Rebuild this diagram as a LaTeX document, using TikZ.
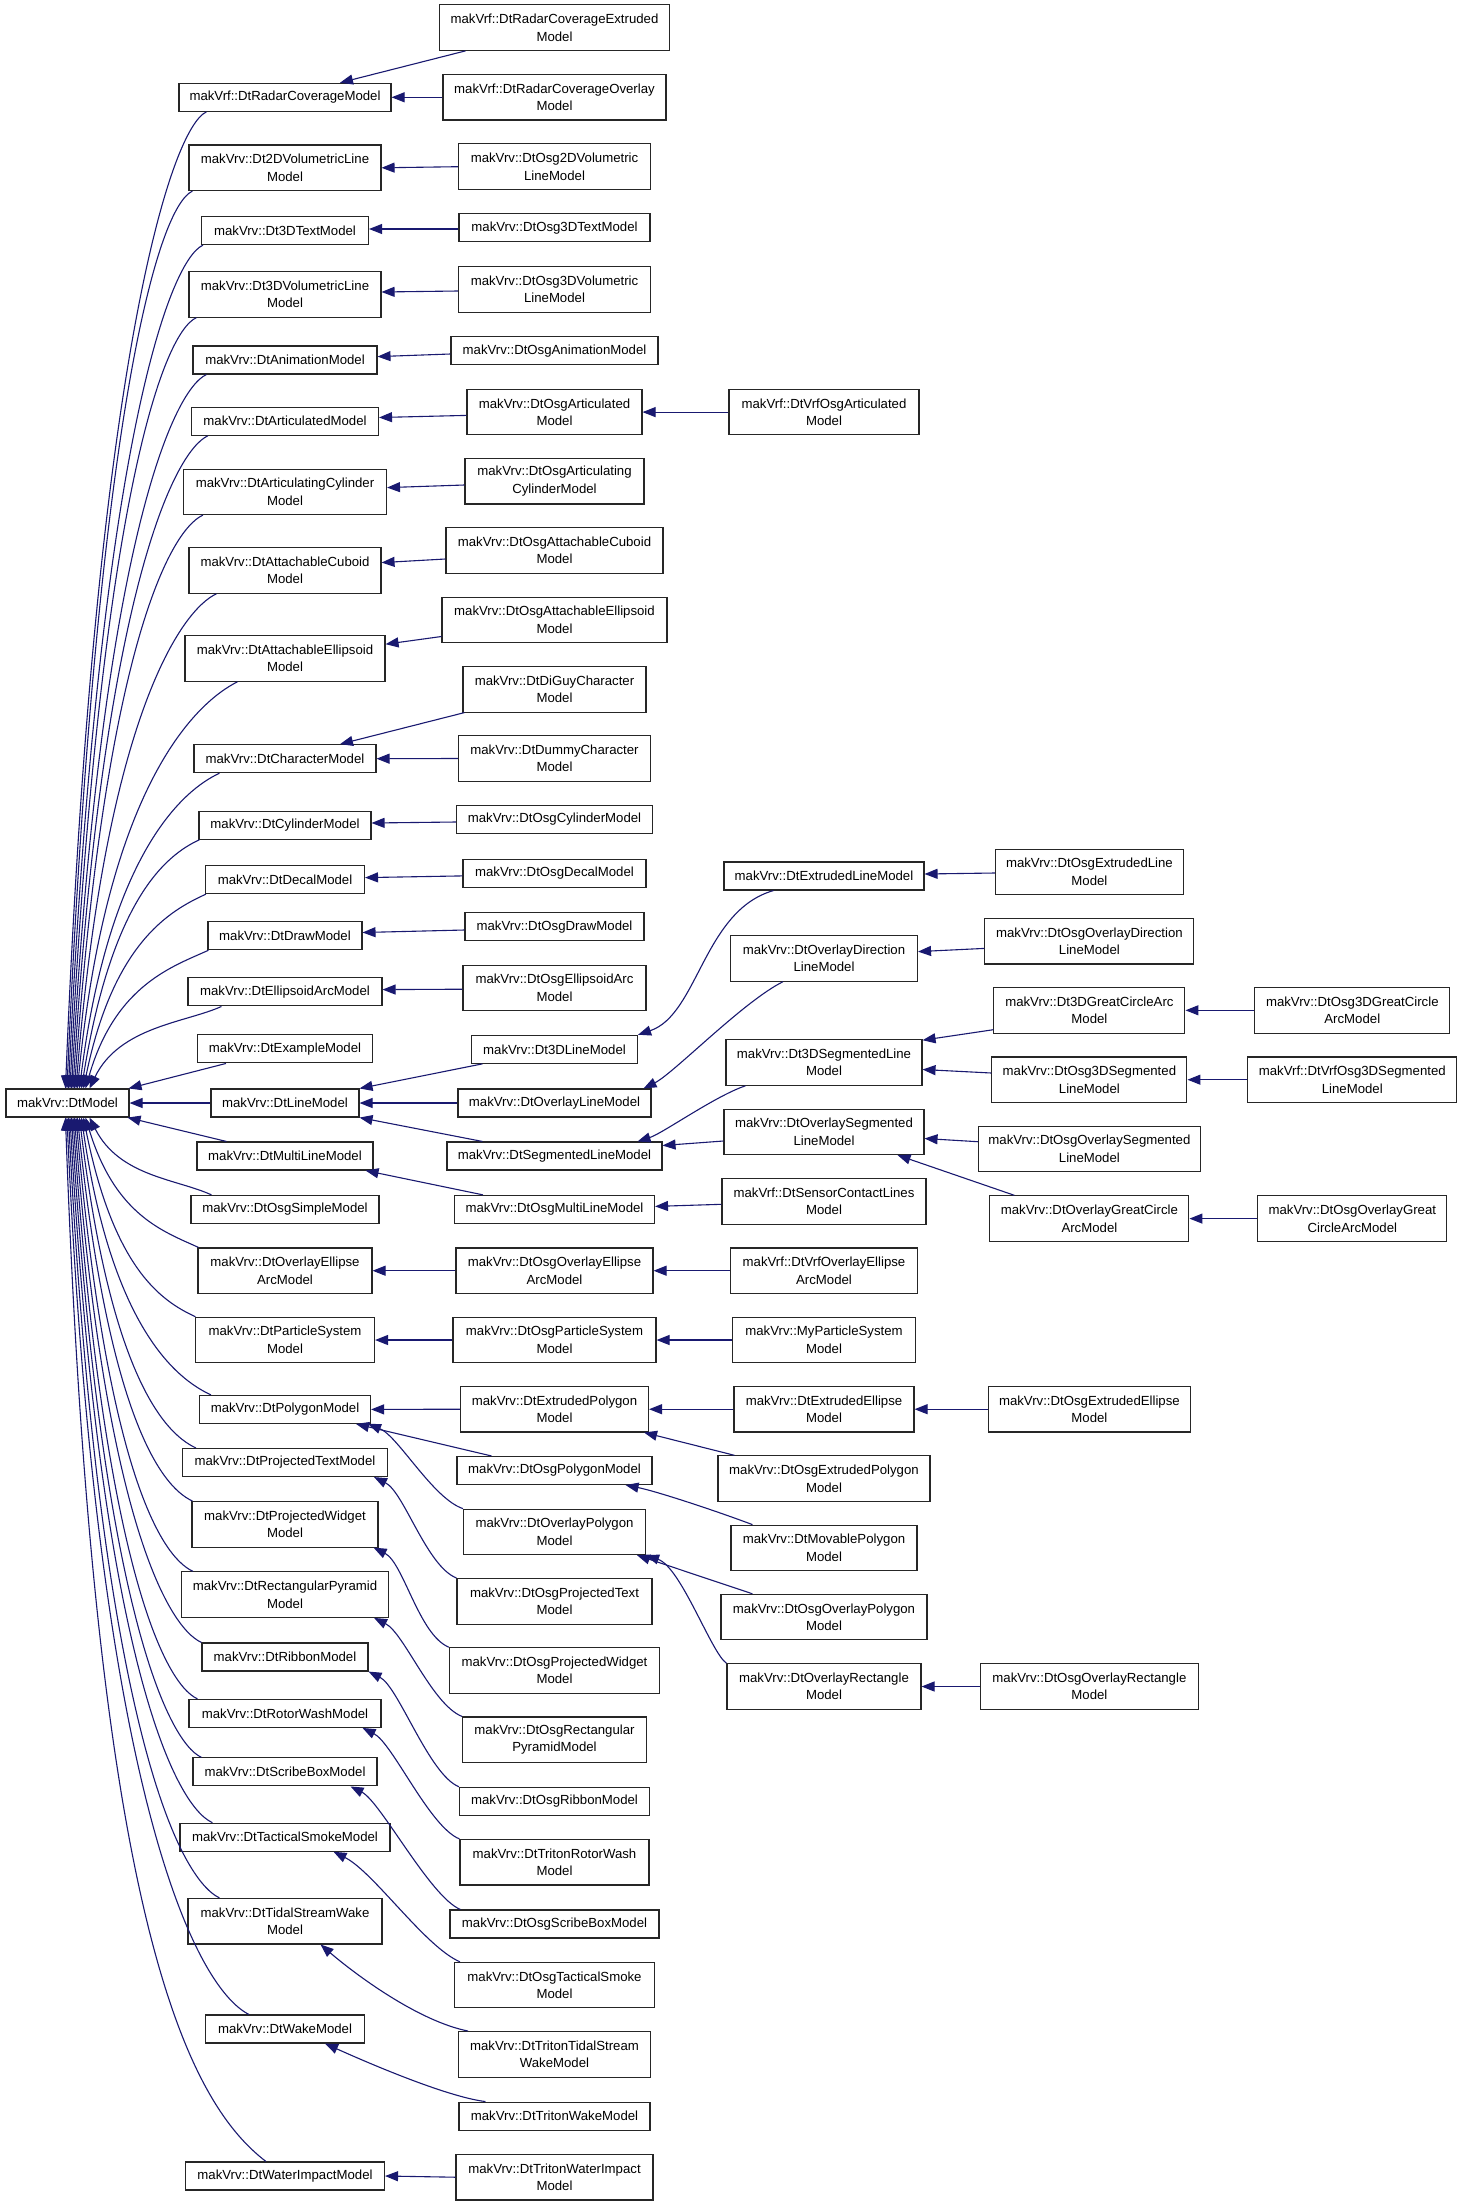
\documentclass[tikz,border=0pt]{standalone}
\usepackage{fontspec}
\setmainfont{Liberation Sans}
\usetikzlibrary{arrows.meta}
\definecolor{mblue}{RGB}{25,25,112}
\begin{document}
\begin{tikzpicture}[x=1pt,y=-1pt,
  bx/.style={draw=black!85,line width=1.1pt,fill=white,inner sep=0pt,align=center,text=black,font=\fontsize{13.2}{17.5}\selectfont},
  bx1/.style={bx,minimum height=28pt},
  bx2/.style={bx,minimum height=45.5pt},
  inh/.style={draw=mblue,line width=1.1pt,-{Triangle[length=13pt,width=10pt]}}]
\fill[white] (0,0) rectangle (1467,2205);
\useasboundingbox (0,0) rectangle (1467,2205);
% root
\node[bx1,minimum width=123pt] (m) at (67.5,1103) {makVrv::DtModel};
% column 1
\node[bx1,minimum width=212pt] (rc) at (285,97.3) {makVrf::DtRadarCoverageModel};
\node[bx2,minimum width=192pt] (d2v) at (285,167.8) {makVrv::Dt2DVolumetricLine\\Model};
\node[bx1,minimum width=167pt] (d3t) at (285,230.6) {makVrv::Dt3DTextModel};
\node[bx2,minimum width=192pt] (d3v) at (285,294.3) {makVrv::Dt3DVolumetricLine\\Model};
\node[bx1,minimum width=184pt] (anim) at (285,360) {makVrv::DtAnimationModel};
\node[bx1,minimum width=187pt] (art) at (285,421.2) {makVrv::DtArticulatedModel};
\node[bx2,minimum width=203pt] (acyl) at (285,491.8) {makVrv::DtArticulatingCylinder\\Model};
\node[bx2,minimum width=192pt] (acub) at (285,570.5) {makVrv::DtAttachableCuboid\\Model};
\node[bx2,minimum width=200pt] (aell) at (285,658.5) {makVrv::DtAttachableEllipsoid\\Model};
\node[bx1,minimum width=182pt] (chr) at (285,758.7) {makVrv::DtCharacterModel};
\node[bx1,minimum width=172pt] (cyl) at (285,825.2) {makVrv::DtCylinderModel};
\node[bx1,minimum width=159pt] (dec) at (285,879.6) {makVrv::DtDecalModel};
\node[bx1,minimum width=154pt] (drw) at (285,935.7) {makVrv::DtDrawModel};
\node[bx1,minimum width=194pt] (earc) at (285,991.9) {makVrv::DtEllipsoidArcModel};
\node[bx1,minimum width=175pt] (exm) at (285,1048.9) {makVrv::DtExampleModel};
\node[bx1,minimum width=148pt] (line) at (285,1103) {makVrv::DtLineModel};
\node[bx1,minimum width=176pt] (mline) at (285,1156) {makVrv::DtMultiLineModel};
\node[bx1,minimum width=188pt] (osim) at (285,1209.4) {makVrv::DtOsgSimpleModel};
\node[bx2,minimum width=174pt] (oea) at (285,1270.7) {makVrv::DtOverlayEllipse\\ArcModel};
\node[bx2,minimum width=179pt] (ps) at (285,1340) {makVrv::DtParticleSystem\\Model};
\node[bx1,minimum width=171pt] (poly) at (285,1409.4) {makVrv::DtPolygonModel};
\node[bx1,minimum width=205pt] (ptxt) at (285,1462.5) {makVrv::DtProjectedTextModel};
\node[bx2,minimum width=186pt] (pw) at (285,1524.3) {makVrv::DtProjectedWidget\\Model};
\node[bx2,minimum width=207pt] (rp) at (285,1594.6) {makVrv::DtRectangularPyramid\\Model};
\node[bx1,minimum width=166pt] (rib) at (285,1657) {makVrv::DtRibbonModel};
\node[bx1,minimum width=192pt] (rw) at (285,1713.4) {makVrv::DtRotorWashModel};
\node[bx1,minimum width=184pt] (sb) at (285,1771.9) {makVrv::DtScribeBoxModel};
\node[bx1,minimum width=210pt] (ts) at (285,1837.2) {makVrv::DtTacticalSmokeModel};
\node[bx2,minimum width=194pt] (tsw) at (285,1921.2) {makVrv::DtTidalStreamWake\\Model};
\node[bx1,minimum width=159pt] (wk) at (285,2029) {makVrv::DtWakeModel};
\node[bx1,minimum width=199pt] (wi) at (285,2176) {makVrv::DtWaterImpactModel};
% column 2
\node[bx2,minimum width=230pt] (rce) at (554.5,27.6) {makVrf::DtRadarCoverageExtruded\\Model};
\node[bx2,minimum width=223pt] (rco) at (554.5,97.3) {makVrf::DtRadarCoverageOverlay\\Model};
\node[bx2,minimum width=192pt] (o2v) at (554.5,166.7) {makVrv::DtOsg2DVolumetric\\LineModel};
\node[bx1,minimum width=191pt] (o3t) at (554.5,227.8) {makVrv::DtOsg3DTextModel};
\node[bx2,minimum width=192pt] (o3v) at (554.5,289.4) {makVrv::DtOsg3DVolumetric\\LineModel};
\node[bx1,minimum width=207pt] (oanim) at (554.5,350.6) {makVrv::DtOsgAnimationModel};
\node[bx2,minimum width=175pt] (oart) at (554.5,412.1) {makVrv::DtOsgArticulated\\Model};
\node[bx2,minimum width=179pt] (oacyl) at (554.5,481.2) {makVrv::DtOsgArticulating\\CylinderModel};
\node[bx2,minimum width=217pt] (oacub) at (554.5,550.4) {makVrv::DtOsgAttachableCuboid\\Model};
\node[bx2,minimum width=225pt] (oaell) at (554.5,619.9) {makVrv::DtOsgAttachableEllipsoid\\Model};
\node[bx2,minimum width=183pt] (diguy) at (554.5,689.3) {makVrv::DtDiGuyCharacter\\Model};
\node[bx2,minimum width=192pt] (dummy) at (554.5,758.5) {makVrv::DtDummyCharacter\\Model};
\node[bx1,minimum width=196pt] (ocyl) at (554.5,819.5) {makVrv::DtOsgCylinderModel};
\node[bx1,minimum width=183pt] (odec) at (554.5,873.2) {makVrv::DtOsgDecalModel};
\node[bx1,minimum width=179pt] (odrw) at (554.5,926.7) {makVrv::DtOsgDrawModel};
\node[bx2,minimum width=183pt] (oearc) at (554.5,988) {makVrv::DtOsgEllipsoidArc\\Model};
\node[bx1,minimum width=166pt] (l3d) at (554.5,1049.3) {makVrv::Dt3DLineModel};
\node[bx1,minimum width=193pt] (oline) at (554.5,1103) {makVrv::DtOverlayLineModel};
\node[bx1,minimum width=215pt] (seg) at (554.5,1156) {makVrv::DtSegmentedLineModel};
\node[bx1,minimum width=200pt] (omline) at (554.5,1209.4) {makVrv::DtOsgMultiLineModel};
\node[bx2,minimum width=197pt] (ooea) at (554.5,1270.7) {makVrv::DtOsgOverlayEllipse\\ArcModel};
\node[bx2,minimum width=203pt] (ops) at (554.5,1340) {makVrv::DtOsgParticleSystem\\Model};
\node[bx2,minimum width=188pt] (epoly) at (554.5,1409.2) {makVrv::DtExtrudedPolygon\\Model};
\node[bx1,minimum width=195pt] (opoly) at (554.5,1470.5) {makVrv::DtOsgPolygonModel};
\node[bx2,minimum width=182pt] (ovpoly) at (554.5,1531.9) {makVrv::DtOverlayPolygon\\Model};
\node[bx2,minimum width=195pt] (optxt) at (554.5,1601.3) {makVrv::DtOsgProjectedText\\Model};
\node[bx2,minimum width=210pt] (opw) at (554.5,1670.5) {makVrv::DtOsgProjectedWidget\\Model};
\node[bx2,minimum width=184pt] (orp) at (554.5,1739.7) {makVrv::DtOsgRectangular\\PyramidModel};
\node[bx1,minimum width=190pt] (orib) at (554.5,1801.3) {makVrv::DtOsgRibbonModel};
\node[bx2,minimum width=189pt] (trw) at (554.5,1862.2) {makVrv::DtTritonRotorWash\\Model};
\node[bx1,minimum width=209pt] (osb) at (554.5,1924) {makVrv::DtOsgScribeBoxModel};
\node[bx2,minimum width=200pt] (ots) at (554.5,1985.1) {makVrv::DtOsgTacticalSmoke\\Model};
\node[bx2,minimum width=192pt] (ttsw) at (554.5,2054.3) {makVrv::DtTritonTidalStream\\WakeModel};
\node[bx1,minimum width=191pt] (twk) at (554.5,2116.1) {makVrv::DtTritonWakeModel};
\node[bx2,minimum width=197pt] (twi) at (554.5,2177.2) {makVrv::DtTritonWaterImpact\\Model};
% column 3
\node[bx2,minimum width=190pt] (vosa) at (824,412.1) {makVrf::DtVrfOsgArticulated\\Model};
\node[bx1,minimum width=200pt] (eline) at (824,876) {makVrv::DtExtrudedLineModel};
\node[bx2,minimum width=187pt] (odir) at (824,958.4) {makVrv::DtOverlayDirection\\LineModel};
\node[bx2,minimum width=196pt] (s3d) at (824,1062.5) {makVrv::Dt3DSegmentedLine\\Model};
\node[bx2,minimum width=200pt] (oseg) at (824,1131.8) {makVrv::DtOverlaySegmented\\LineModel};
\node[bx2,minimum width=204pt] (scl) at (824,1201.3) {makVrf::DtSensorContactLines\\Model};
\node[bx2,minimum width=187pt] (voea) at (824,1270.7) {makVrf::DtVrfOverlayEllipse\\ArcModel};
\node[bx2,minimum width=183pt] (mps) at (824,1340) {makVrv::MyParticleSystem\\Model};
\node[bx2,minimum width=180pt] (eell) at (824,1409.2) {makVrv::DtExtrudedEllipse\\Model};
\node[bx2,minimum width=212pt] (oepoly) at (824,1478.6) {makVrv::DtOsgExtrudedPolygon\\Model};
\node[bx2,minimum width=186pt] (mpoly) at (824,1547.9) {makVrv::DtMovablePolygon\\Model};
\node[bx2,minimum width=206pt] (oopoly) at (824,1617.1) {makVrv::DtOsgOverlayPolygon\\Model};
\node[bx2,minimum width=194pt] (orect) at (824,1686.5) {makVrv::DtOverlayRectangle\\Model};
% column 4
\node[bx2,minimum width=188pt] (oeline) at (1089.4,871.8) {makVrv::DtOsgExtrudedLine\\Model};
\node[bx2,minimum width=209pt] (oodir) at (1089.4,941.2) {makVrv::DtOsgOverlayDirection\\LineModel};
\node[bx2,minimum width=191pt] (gca) at (1089.4,1010.3) {makVrv::Dt3DGreatCircleArc\\Model};
\node[bx2,minimum width=195pt] (o3seg) at (1089.4,1079.7) {makVrv::DtOsg3DSegmented\\LineModel};
\node[bx2,minimum width=222pt] (ooseg) at (1089.4,1148.9) {makVrv::DtOsgOverlaySegmented\\LineModel};
\node[bx2,minimum width=199pt] (ogca) at (1089.4,1218.6) {makVrv::DtOverlayGreatCircle\\ArcModel};
\node[bx2,minimum width=202pt] (oeell) at (1089.4,1409.2) {makVrv::DtOsgExtrudedEllipse\\Model};
\node[bx2,minimum width=218pt] (oorect) at (1089.4,1686.5) {makVrv::DtOsgOverlayRectangle\\Model};
% column 5
\node[bx2,minimum width=195pt] (o3gca) at (1352.3,1010.3) {makVrv::DtOsg3DGreatCircle\\ArcModel};
\node[bx2,minimum width=209pt] (vo3seg) at (1352.3,1079.7) {makVrf::DtVrfOsg3DSegmented\\LineModel};
\node[bx2,minimum width=189pt] (oogca) at (1352.3,1218.6) {makVrv::DtOsgOverlayGreat\\CircleArcModel};
% ---- edges into DtModel (upper fan)
\draw[inh] ([xshift=28pt]rc.south west) .. controls +(-35,16) and +(30,-733) .. ([xshift=60pt]m.north west);
\draw[inh] ([xshift=4pt]d2v.south west) .. controls +(-35,16) and +(30,-674) .. ([xshift=61.5pt]m.north west);
\draw[inh] ([xshift=2pt]d3t.south west) .. controls +(-35,16) and +(30,-633) .. ([xshift=63pt]m.north west);
\draw[inh] ([xshift=8pt]d3v.south west) .. controls +(-35,16) and +(30,-579) .. ([xshift=64.5pt]m.north west);
\draw[inh] ([xshift=14pt]anim.south west) .. controls +(-35,16) and +(30,-536) .. ([xshift=66pt]m.north west);
\draw[inh] ([xshift=17pt]art.south west) .. controls +(-35,16) and +(30,-490) .. ([xshift=67.5pt]m.north west);
\draw[inh] ([xshift=20pt]acyl.south west) .. controls +(-35,16) and +(30,-431) .. ([xshift=69pt]m.north west);
\draw[inh] ([xshift=28pt]acub.south west) .. controls +(-35,16) and +(30,-372) .. ([xshift=70.5pt]m.north west);
\draw[inh] ([xshift=53pt]aell.south west) .. controls +(-40,20) and +(30,-306) .. ([xshift=72pt]m.north west);
\draw[inh] ([xshift=26pt]chr.south west) .. controls +(-35,16) and +(30,-237) .. ([xshift=74pt]m.north west);
\draw[inh] ([xshift=1pt]cyl.south west) .. controls +(-35,16) and +(30,-187) .. ([xshift=76pt]m.north west);
\draw[inh] ([xshift=1pt]dec.south west) .. controls +(-35,16) and +(30,-147) .. ([xshift=78pt]m.north west);
\draw[inh] ([xshift=1pt]drw.south west) .. controls +(-35,16) and +(30,-104) .. ([xshift=80pt]m.north west);
\draw[inh] ([xshift=34pt]earc.south west) .. controls +(-35,16) and +(30,-62) .. ([xshift=84pt]m.north west);
\draw[inh] ([xshift=29pt]exm.south west) -- ([xshift=-1pt]m.north east);
\draw[inh] (line.west) -- (m.east);
\draw[inh] ([xshift=30pt]mline.north west) -- ([xshift=-2pt]m.south east);
% lower fan
\draw[inh] ([xshift=21pt]osim.north west) .. controls +(-35,-16) and +(30,59) .. ([xshift=84pt]m.south west);
\draw[inh] ([xshift=1pt]oea.north west) .. controls +(-35,-16) and +(30,98) .. ([xshift=80pt]m.south west);
\draw[inh] ([xshift=0.5pt]ps.north west) .. controls +(-35,-16) and +(30,150) .. ([xshift=78pt]m.south west);
\draw[inh] ([xshift=12pt]poly.north west) .. controls +(-35,-16) and +(30,209) .. ([xshift=76pt]m.south west);
\draw[inh] ([xshift=14pt]ptxt.north west) .. controls +(-35,-16) and +(30,249) .. ([xshift=74pt]m.south west);
\draw[inh] ([xshift=1pt]pw.north west) .. controls +(-35,-16) and +(30,288) .. ([xshift=72pt]m.south west);
\draw[inh] ([xshift=12pt]rp.north west) .. controls +(-35,-16) and +(30,341) .. ([xshift=70.5pt]m.south west);
\draw[inh] (rib.north west) .. controls +(-35,-16) and +(30,394) .. ([xshift=69pt]m.south west);
\draw[inh] ([xshift=9pt]rw.north west) .. controls +(-35,-16) and +(30,437) .. ([xshift=67.5pt]m.south west);
\draw[inh] ([xshift=9pt]sb.north west) .. controls +(-35,-16) and +(30,481) .. ([xshift=66pt]m.south west);
\draw[inh] ([xshift=33pt]ts.north west) .. controls +(-40,-18) and +(30,530) .. ([xshift=64.5pt]m.south west);
\draw[inh] ([xshift=32pt]tsw.north west) .. controls +(-45,-22) and +(30,586) .. ([xshift=63pt]m.south west);
\draw[inh] ([xshift=44pt]wk.north west) .. controls +(-55,-28) and +(30,673) .. ([xshift=61.5pt]m.south west);
\draw[inh] ([xshift=81pt]wi.north west) .. controls +(-85,-65) and +(28,784) .. ([xshift=60pt]m.south west);
% column 2 -> column 1
\draw[inh] ([xshift=26.5pt]rce.south west) -- ([xshift=55pt]rc.north);
\draw[inh] (rco.west) -- (rc.east);
\draw[inh] (o2v.west) -- (d2v.east);
\draw[inh] ([yshift=-1.2pt]o3t.west) -- ([yshift=1.6pt]d3t.east);
\draw[inh] ([yshift=-1.6pt]o3v.west) -- ([yshift=2.3pt]d3v.east);
\draw[inh] ([yshift=-3.4pt]oanim.west) -- ([yshift=3.4pt]anim.east);
\draw[inh] ([yshift=-3.3pt]oart.west) -- ([yshift=3.7pt]art.east);
\draw[inh] ([yshift=-3.8pt]oacyl.west) -- ([yshift=4.2pt]acyl.east);
\draw[inh] ([yshift=-8.6pt]oacub.west) -- ([yshift=7.9pt]acub.east);
\draw[inh] ([yshift=-16.6pt]oaell.west) -- ([yshift=14.3pt]aell.east);
\draw[inh] ([xshift=2pt]diguy.south west) -- ([xshift=55pt]chr.north);
\draw[inh] (dummy.west) -- (chr.east);
\draw[inh] ([yshift=-2.5pt]ocyl.west) -- ([yshift=2.2pt]cyl.east);
\draw[inh] ([yshift=-2.7pt]odec.west) -- ([yshift=2pt]dec.east);
\draw[inh] ([yshift=-3.3pt]odrw.west) -- ([yshift=3.2pt]drw.east);
\draw[inh] ([yshift=-1.2pt]oearc.west) -- ([yshift=2.3pt]earc.east);
\draw[inh] ([xshift=11.5pt]l3d.south west) -- (line.north east);
\draw[inh] (oline.west) -- (line.east);
\draw[inh] ([xshift=36pt]seg.north west) -- (line.south east);
\draw[inh] ([xshift=29pt]omline.north west) -- ([xshift=-8pt]mline.south east);
\draw[inh] (ooea.west) -- (oea.east);
\draw[inh] (ops.west) -- (ps.east);
\draw[inh] (epoly.west) -- (poly.east);
\draw[inh] ([xshift=35pt]opoly.north west) -- ([xshift=-15pt]poly.south east);
\draw[inh] (ovpoly.north west) .. controls +(-30,-10) and +(30,12) .. ([xshift=-3pt]poly.south east);
\draw[inh] (optxt.north west) .. controls +(-30,-12) and +(30,15) .. ([xshift=-14pt]ptxt.south east);
\draw[inh] (opw.north west) .. controls +(-30,-12) and +(30,15) .. ([xshift=-5pt]pw.south east);
\draw[inh] (orp.north west) .. controls +(-30,-12) and +(30,15) .. ([xshift=-15pt]rp.south east);
\draw[inh] (orib.north west) .. controls +(-30,-12) and +(30,15) .. (rib.south east);
\draw[inh] (trw.north west) .. controls +(-30,-12) and +(30,15) .. ([xshift=-19pt]rw.south east);
\draw[inh] ([xshift=11pt]osb.north west) .. controls +(-30,-12) and +(30,15) .. ([xshift=-27pt]sb.south east);
\draw[inh] ([xshift=6pt]ots.north west) .. controls +(-35,-15) and +(40,20) .. ([xshift=-57pt]ts.south east);
\draw[inh] ([xshift=10pt]ttsw.north west) .. controls +(-50,-10) and +(35,30) .. ([xshift=-62pt]tsw.south east);
\draw[inh] ([xshift=27pt]twk.north west) .. controls +(-40,-5) and +(40,18) .. ([xshift=-40pt]wk.south east);
\draw[inh] (twi.west) -- (wi.east);
% column 3 -> column 2
\draw[inh] (vosa.west) -- (oart.east);
\draw[inh] ([xshift=50pt]eline.south west) .. controls +(-70,20) and +(60,-20) .. (l3d.north east);
\draw[inh] ([xshift=53pt]odir.south west) .. controls +(-40,20) and +(30,-15) .. ([xshift=-8pt]oline.north east);
\draw[inh] ([xshift=20pt]s3d.south west) .. controls +(-30,10) and +(25,-8) .. ([xshift=-25pt]seg.north east);
\draw[inh] ([yshift=-9.2pt]oseg.west) -- ([yshift=10.5pt]seg.east);
\draw[inh] ([yshift=-3pt]scl.west) -- ([yshift=3pt]omline.east);
\draw[inh] (voea.west) -- (ooea.east);
\draw[inh] (mps.west) -- (ops.east);
\draw[inh] (eell.west) -- (epoly.east);
\draw[inh] ([xshift=17pt]oepoly.north west) -- ([xshift=-5pt]epoly.south east);
\draw[inh] ([xshift=22pt]mpoly.north west) .. controls +(-40,-15) and +(30,6) .. ([xshift=-27pt]opoly.south east);
\draw[inh] ([xshift=32pt]oopoly.north west) -- ([xshift=-9pt]ovpoly.south east);
\draw[inh] (orect.north west) .. controls +(-15,-10) and +(35,12) .. (ovpoly.south east);
% column 4 -> column 3
\draw[inh] ([yshift=-1.2pt]oeline.west) -- ([yshift=2pt]eline.east);
\draw[inh] ([yshift=-7.2pt]oodir.west) -- ([yshift=6.8pt]odir.east);
\draw[inh] ([yshift=-19.4pt]gca.west) -- ([yshift=-1pt]s3d.north east);
\draw[inh] ([yshift=6.7pt]o3seg.west) -- ([yshift=-7pt]s3d.east);
\draw[inh] ([yshift=7.2pt]ooseg.west) -- ([yshift=-6.7pt]oseg.east);
\draw[inh] ([xshift=25pt]ogca.north west) -- ([xshift=-27pt]oseg.south east);
\draw[inh] (oeell.west) -- (eell.east);
\draw[inh] (oorect.west) -- (orect.east);
% column 5 -> column 4
\draw[inh] (o3gca.west) -- (gca.east);
\draw[inh] (vo3seg.west) -- (o3seg.east);
\draw[inh] (oogca.west) -- (ogca.east);
\end{tikzpicture}
\end{document}
